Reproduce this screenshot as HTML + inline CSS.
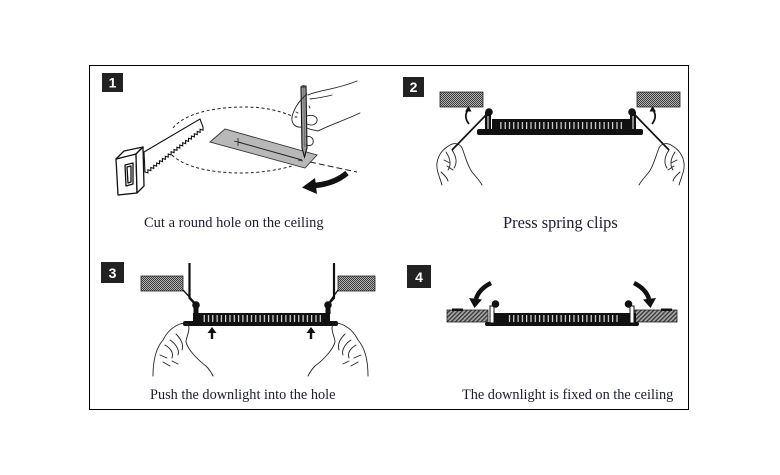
<!DOCTYPE html>
<html><head><meta charset="utf-8"><style>
html,body{margin:0;padding:0;background:#fff;}
svg{display:block;}
.t{font-family:"Liberation Serif",serif;fill:#1c1c2c;}
.b{font-family:"Liberation Sans",sans-serif;font-weight:bold;fill:#fff;font-size:14px;}
</style></head><body>
<svg width="780" height="475" viewBox="0 0 780 475" xmlns="http://www.w3.org/2000/svg">
<defs>
<pattern id="chk" width="2" height="2" patternUnits="userSpaceOnUse">
<rect width="2" height="2" fill="#b4b4b4"/><rect width="1" height="1" fill="#3a3a3a"/><rect x="1" y="1" width="1" height="1" fill="#3a3a3a"/>
</pattern>
<pattern id="diag" width="3" height="3" patternUnits="userSpaceOnUse" patternTransform="rotate(45)">
<rect width="3" height="3" fill="#a8a8a8"/><rect width="1.3" height="3" fill="#333"/>
</pattern>
<pattern id="fin" width="4.3" height="20" patternUnits="userSpaceOnUse">
<rect width="4.3" height="20" fill="#111"/><rect x="1.6" width="1" height="20" fill="#fff"/>
</pattern>
</defs>
<rect x="89.5" y="65.5" width="599" height="344" fill="#fff" stroke="#000" stroke-width="1"/>

<!-- badges -->
<rect x="102" y="73" width="21" height="19" fill="#222"/><text class="b" x="112.5" y="87.5" text-anchor="middle">1</text>
<rect x="403" y="77" width="21" height="20" fill="#222"/><text class="b" x="413.5" y="92" text-anchor="middle">2</text>
<rect x="101" y="262" width="23" height="21" fill="#222"/><text class="b" x="112.5" y="278" text-anchor="middle">3</text>
<rect x="407" y="265" width="24" height="23" fill="#222"/><text class="b" x="419" y="282" text-anchor="middle">4</text>

<!-- PANEL 1 -->
<g fill="none" stroke="#222" stroke-width="1" stroke-dasharray="3,2.5">
<path d="M173,128 C185,113 215,107 245,107 C265,107 280,111 292,116"/>
<path d="M172,155 C185,168 215,173 240,173 C260,173 278,170 292,166"/>
</g>
<path d="M310,162 L357,172" stroke="#222" stroke-width="1" stroke-dasharray="6,3" fill="none"/>
<!-- saw blade -->
<path d="M144,152 L200,119 L203,127 L203.05,130.1 L200.1,129.25 L200.15,132.4 L197.2,131.5 L197.25,134.6 L194.3,133.75 L194.35,136.9 L191.4,136 L191.45,139.1 L188.5,138.25 L188.55,141.4 L185.6,140.5 L185.65,143.6 L182.7,142.75 L182.75,145.9 L179.8,145 L179.85,148.1 L176.9,147.25 L176.95,150.4 L174,149.5 L174.05,152.6 L171.1,151.75 L171.15,154.9 L168.2,154 L168.25,157.1 L165.3,156.25 L165.35,159.4 L162.4,158.5 L162.45,161.6 L159.5,160.75 L159.55,163.9 L156.6,163 L156.65,166.1 L153.7,165.25 L153.75,168.4 L150.8,167.5 L150.85,170.6 L147.9,169.75 L147.95,172.9 L145,172 Z" fill="#fff" stroke="#111" stroke-width="1.1"/>
<!-- saw handle -->
<g fill="#fff" stroke="#111" stroke-width="1.3" stroke-linejoin="round">
<path d="M116,159 L136,154 L137,193 L118,195 Z"/>
<path d="M116,159 L124,151 L143,147 L136,154 Z"/>
<path d="M136,154 L143,147 L144,186 L137,193 Z"/>
<path d="M125,165 L133,163 L133,184 L126,186 Z"/>
<path d="M127,167 L131,166 L131,182 L128,183 Z"/>
</g>
<!-- plate -->
<path d="M210,142 L225,129 L317,155 L305,168 Z" fill="#b8b8b8" stroke="#333" stroke-width="0.9"/>
<path d="M238,142 L302,160" stroke="#222" stroke-width="1"/>
<path d="M234,141 L242,143 M238,138 L238,146 M298,160 L303,161" stroke="#222" stroke-width="0.8"/>
<!-- pencil -->
<path d="M301,87 L306,86 L307,148 L304.5,157 L302,148 Z" fill="#9a9a9a" stroke="#111" stroke-width="1.1"/>
<ellipse cx="303.5" cy="86.5" rx="2.6" ry="1.4" fill="#444"/>
<path d="M303.8,88 L304.5,147" stroke="#555" stroke-width="0.6"/>
<!-- hand 1 -->
<g fill="none" stroke="#222" stroke-width="0.9" stroke-linecap="round">
<path d="M308,95 C318,90 335,90 357,81"/>
<path d="M307,94 C300,100 294,108 292,117 C291,124 296,128 302,127"/>
<path d="M307,116 C313,114 318,117 317,121 C316,125 311,126 307,124"/>
<path d="M310,99 C318,98 325,97 332,95"/>
<path d="M318,131 C330,125 345,120 360,113"/>
<path d="M307,128 C311,130 315,130 318,131"/>
<path d="M306,137 C311,135 314,139 313,143 C312,146 308,146 306,145"/>
<path d="M296,112 L298,113 M295,117 L297,117 M309,106 L310,108"/>
</g>
<!-- arrow 1 -->
<path d="M347,173 Q334,184 314,185.5" fill="none" stroke="#111" stroke-width="5.5"/>
<path d="M302,187.5 L315,178 L317,194 Z" fill="#111"/>

<!-- PANEL 2 -->
<rect x="440" y="92" width="43" height="15" fill="url(#chk)" stroke="#222" stroke-width="0.8"/>
<rect x="637" y="92" width="43" height="15" fill="url(#chk)" stroke="#222" stroke-width="0.8"/>
<rect x="477" y="129" width="166" height="6" rx="2" fill="#111"/>
<rect x="492" y="119" width="138" height="11" fill="#111"/>
<rect x="499" y="122" width="124" height="7" fill="url(#fin)"/>
<g id="cl2">
<rect x="485" y="112" width="6" height="18" fill="#111"/>
<path d="M488,116 L488,129" stroke="#fff" stroke-width="1"/>
<circle cx="489" cy="112" r="3.8" fill="#111"/>
<path d="M487,114 L452,150" stroke="#111" stroke-width="1.7"/>
<path d="M469,124 C465,119 465,114 468,110" fill="none" stroke="#111" stroke-width="1.8"/>
<path d="M468.5,106 L465,111.5 L471.5,111.5 Z" fill="#111"/>
<g fill="none" stroke="#222" stroke-width="0.9" stroke-linecap="round">
<path d="M442,185 C440,178 436,170 437,163 C438,155 443,149 450,145 C455,142 460,144 462,148 C465,155 467,165 472,172 C476,177 480,181 482,185"/>
<path d="M446,152 C450,158 452,164 448,170 M452,150 C456,156 458,162 454,168 M444,160 L450,163 M447,166 L453,170 M441,172 C444,175 447,177 448,181"/>
</g>
</g>
<use href="#cl2" transform="translate(1121,0) scale(-1,1)"/>

<!-- PANEL 3 -->
<rect x="141" y="276" width="42" height="15" fill="url(#chk)" stroke="#222" stroke-width="0.8"/>
<rect x="338" y="276" width="37" height="15" fill="url(#chk)" stroke="#222" stroke-width="0.8"/>
<rect x="183" y="321" width="155" height="5" rx="2" fill="#111"/>
<rect x="193" y="313" width="137" height="10" fill="#111"/>
<rect x="202" y="315" width="120" height="7" fill="url(#fin)"/>
<g stroke="#111" fill="none">
<path d="M189.5,263 L189.5,298 L195,304" stroke-width="2.2"/>
<path d="M183,290 L196,304" stroke-width="1.3"/>
<path d="M334,263 L334,298 L328.5,304" stroke-width="2.2"/>
<path d="M338,290 L328,304" stroke-width="1.3"/>
</g>
<rect x="193.5" y="304" width="5" height="10" fill="#111"/>
<rect x="325.5" y="304" width="5" height="10" fill="#111"/>
<circle cx="196" cy="305" r="3.8" fill="#111"/>
<circle cx="328" cy="305" r="3.8" fill="#111"/>
<path d="M212,327 L207.5,333 L216.5,333 Z M210.8,333 h2.4 v6 h-2.4 Z" fill="#111"/>
<path d="M311,327 L306.5,333 L315.5,333 Z M309.8,333 h2.4 v6 h-2.4 Z" fill="#111"/>
<g id="h3" fill="none" stroke="#222" stroke-width="0.9" stroke-linecap="round">
<path d="M153,376 C153,360 156,348 163,340 C167,332 172,327 180,324 C185,322 189,324 189,328 C189,333 186,338 186,342 C188,350 198,360 206,366 C210,370 212,374 213,376"/>
<path d="M165,345 C170,348 174,352 172,358 M170,340 C175,343 180,350 178,355 M176,334 C180,338 184,344 182,350 M160,355 L167,358 M163,362 L170,366 M172,361 L178,364"/>
</g>
<use href="#h3" transform="translate(521,0) scale(-1,1)"/>

<!-- PANEL 4 -->
<rect x="447" y="310" width="41" height="12" fill="url(#diag)" stroke="#222" stroke-width="0.8"/>
<rect x="635" y="310" width="42" height="12" fill="url(#diag)" stroke="#222" stroke-width="0.8"/>
<rect x="452" y="308.5" width="11" height="2.5" fill="#111"/>
<rect x="661" y="308.5" width="11" height="2.5" fill="#111"/>
<rect x="485" y="322" width="154" height="4" rx="2" fill="#111"/>
<rect x="490" y="313" width="146" height="11" fill="#111"/>
<rect x="506" y="315" width="112" height="7" fill="url(#fin)"/>
<rect x="490" y="306" width="4" height="17" fill="#fff" stroke="#111" stroke-width="1"/>
<rect x="630" y="306" width="4" height="17" fill="#fff" stroke="#111" stroke-width="1"/>
<circle cx="495.5" cy="304" r="3.8" fill="#111"/>
<circle cx="628.5" cy="304" r="3.8" fill="#111"/>
<g id="a4">
<path d="M491,283 Q479,289 476,299" fill="none" stroke="#111" stroke-width="4.5"/>
<path d="M474.5,308 L469,298 L482,299.5 Z" fill="#111"/>
</g>
<use href="#a4" transform="translate(1125,0) scale(-1,1)"/>

<!-- captions -->
<text class="t" x="144" y="227" font-size="14.5">Cut a round hole on the ceiling</text>
<text class="t" x="503" y="228" font-size="16.4">Press spring clips</text>
<text class="t" x="150" y="399" font-size="14.3">Push the downlight into the hole</text>
<text class="t" x="462" y="399" font-size="14.3">The downlight is fixed on the ceiling</text>
</svg>
</body></html>
